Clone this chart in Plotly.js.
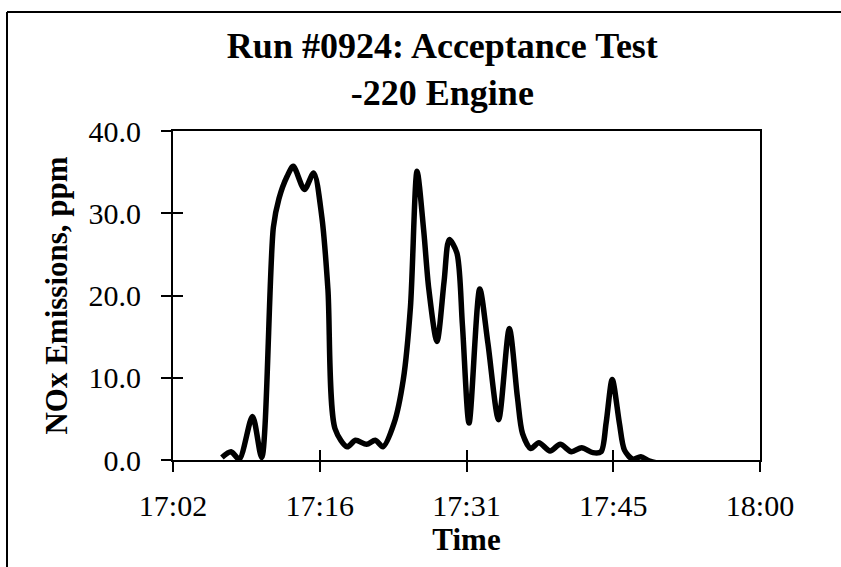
<!DOCTYPE html>
<html>
<head>
<meta charset="utf-8">
<script src="https://cdn.plot.ly/plotly-3.0.1.min.js"></script>
<style>html,body{margin:0;padding:0;background:#fff;}#chart{width:841px;height:567px;}</style>
</head>
<body>
<div id="chart"></div>
<script>
// minutes after 17:00
const minutes = [7.2, 8.1, 8.9, 10.2, 11.1, 12.25, 12.8, 13.6, 14.2, 15.3, 16.2, 17.0, 17.6, 18.3, 19.5, 20.3, 21.4, 22.25, 23.0, 24.1, 25.0, 25.7, 26.35, 27.0, 27.5, 28.3, 29.0, 29.5, 30.25, 30.8, 31.45, 32.5, 33.3, 34.35, 35.4, 36.2, 36.7, 37.5, 38.3, 39.4, 40.4, 41.5, 42.5, 43.6, 44.4, 44.9, 45.5, 46.2, 46.7, 47.5, 48.3, 49.1, 49.9, 50.6];
const noxPpm = [0.3, 1.0, 0.1, 5.3, 0.3, 28.3, 31.8, 34.5, 35.7, 32.9, 34.9, 29.6, 20.8, 3.8, 1.6, 2.4, 1.9, 2.4, 1.6, 4.5, 9.8, 18.6, 35.1, 27.9, 20.8, 14.4, 21.7, 26.8, 25.2, 16.4, 4.5, 20.8, 14.2, 4.9, 16.0, 7.6, 3.2, 1.4, 2.1, 1.1, 1.9, 1.0, 1.5, 0.9, 1.0, 4.5, 9.8, 4.5, 1.2, 0.1, 0.4, -0.1, -0.35, -0.35];
const tickMinutes = [2.4, 16.8, 31.2, 45.6, 60];
const tickLabels = ["17:02", "17:16", "17:31", "17:45", "18:00"];
const yTicks = [0, 10, 20, 30, 40];
const yTickLabels = ["0.0", "10.0", "20.0", "30.0", "40.0"];

const serif = "Liberation Serif, Times New Roman, serif";
const axisCommon = {showgrid:false, zeroline:false, showline:true, linecolor:'#000', linewidth:2,
  ticks:'outside', ticklen:10, tickwidth:2, tickcolor:'#000'};

const trace = {x: minutes, y: noxPpm, type:'scatter', mode:'lines',
  line:{color:'#000', width:5.5, shape:'spline', smoothing:0.8}, hoverinfo:'skip', showlegend:false};
// overlay dummy trace for cross ticks on inner side
const trace2 = {x:[tickMinutes[0]], y:[0], xaxis:'x2', yaxis:'y2', mode:'markers', marker:{opacity:0}, showlegend:false, hoverinfo:'skip'};

const layout = {
  width:841, height:567,
  margin:{l:173, r:81, t:131, b:107},
  paper_bgcolor:'#fff', plot_bgcolor:'#fff',
  font:{family:serif, color:'#000'},
  title:{text:'<b>Run #0924: Acceptance Test<br>-220 Engine</b>', font:{family:serif, size:36, color:'#000'},
    x:0.526, xref:'container', xanchor:'center', y:0.898, yref:'container', yanchor:'top'},
  xaxis:Object.assign({}, axisCommon, {range:[2.4, 60], tickvals:tickMinutes, ticktext:tickLabels, mirror:true,
    tickfont:{family:serif, size:30}, ticklabelstandoff:8,
    title:{text:'<b>Time</b>', font:{family:serif, size:31}, standoff:6}}),
  yaxis:Object.assign({}, axisCommon, {range:[0, 40], tickvals:yTicks, ticktext:yTickLabels, mirror:true,
    tickfont:{family:serif, size:30}, ticklabelstandoff:14,
    title:{text:'<b>NOx Emissions, ppm</b>', font:{family:serif, size:31}, standoff:12}}),
  xaxis2:{overlaying:'x', range:[2.4, 60], tickvals:tickMinutes, showticklabels:false, ticks:'inside', ticklen:10, tickwidth:2, tickcolor:'#000', showgrid:false, zeroline:false, showline:false, side:'bottom', anchor:'y2'},
  yaxis2:{overlaying:'y', range:[0, 40], tickvals:yTicks, showticklabels:false, ticks:'inside', ticklen:10, tickwidth:2, tickcolor:'#000', showgrid:false, zeroline:false, showline:false, side:'left', anchor:'x2'},
  shapes:[
    {type:'line', xref:'paper', yref:'paper', x0:(7-173)/587, x1:(841-173)/587, y0:(460-12)/329, y1:(460-12)/329, line:{color:'#000', width:2}},
    {type:'line', xref:'paper', yref:'paper', x0:(7-173)/587, x1:(7-173)/587, y0:(460-12)/329, y1:(460-567)/329, line:{color:'#000', width:2}}
  ]
};
Plotly.newPlot('chart', [trace, trace2], layout, {displayModeBar:false, staticPlot:true});
</script>
</body>
</html>
